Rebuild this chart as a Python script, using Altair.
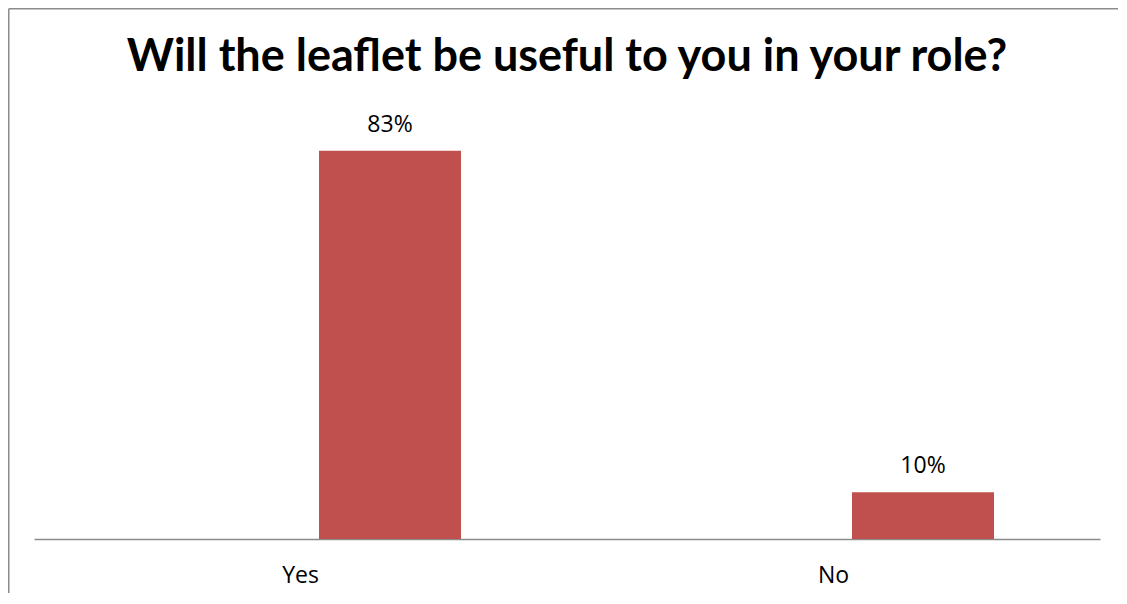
import altair as alt
import pandas as pd

categories = ["Yes", "No"]
values = [0.83, 0.10]
labels = ["83%", "10%"]

df = pd.DataFrame({"answer": categories, "share": values, "label": labels})

W = 1066
H = 421
PAD = {"left": 26, "top": 110, "right": 18, "bottom": 54}

x = alt.X(
    "answer:N",
    sort=categories,
    scale=alt.Scale(paddingInner=0, paddingOuter=0),
    axis=alt.Axis(
        title=None, labelAngle=0, ticks=False, labelPadding=43,
        labelBaseline="alphabetic", labelFont="Open Sans", labelFontSize=23,
        labelColor="#000000", domainColor="#8c8c8c", domainWidth=1.5, grid=False,
    ),
)
y = alt.Y("share:Q", scale=alt.Scale(domain=[0, 0.9]), axis=None)

bars = alt.Chart(df).mark_bar(color="#C0504D", width=142, xOffset=89.5).encode(x=x, y=y)
text = alt.Chart(df).mark_text(
    font="Open Sans", fontSize=23, color="#000000", baseline="alphabetic",
    dy=-19, dx=89.5,
).encode(x=x, y=y, text="label:N")

one = pd.DataFrame({"k": [0]})
border_top = alt.Chart(one).mark_rule(color="#8c8c8c", strokeWidth=1.5).encode(
    x=alt.value(-25.25), x2=alt.value(W + PAD["right"]), y=alt.value(-109.25)
)
border_left = alt.Chart(one).mark_rule(color="#8c8c8c", strokeWidth=1.5).encode(
    x=alt.value(-25.25), y=alt.value(-109.25), y2=alt.value(H + PAD["bottom"])
)

chart = alt.layer(border_top, border_left, bars, text).properties(
    width=W,
    height=H,
    autosize=alt.AutoSizeParams(type="none"),
    padding=PAD,
    title=alt.TitleParams(
        "Will the leaflet be useful to you in your role?",
        font="Lato", fontSize=45, fontWeight="bold", color="#000000",
        anchor="middle", baseline="alphabetic", offset=-108,
    ),
).configure_view(stroke=None)

chart.save("out.html", embed_options={"renderer": "svg", "actions": False})
